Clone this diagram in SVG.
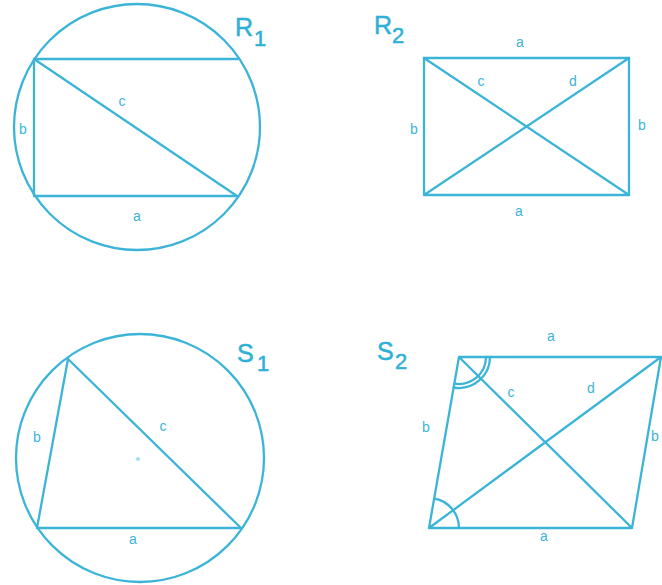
<svg xmlns="http://www.w3.org/2000/svg" width="662" height="585" viewBox="0 0 662 585">
<style>
.s{fill:none;stroke:#3cb4d8;stroke-width:2.3;stroke-linecap:round;stroke-linejoin:round}
.t{fill:#3cb4d8;font-family:"Liberation Sans",Arial,sans-serif;font-size:14px;text-anchor:middle}
.big{fill:#2fb0d6;stroke:#2fb0d6;stroke-width:0.5;font-family:"Liberation Sans",Arial,sans-serif;font-size:25px}
.sub{fill:#2fb0d6;stroke:#2fb0d6;stroke-width:0.5;font-family:"Liberation Sans",Arial,sans-serif;font-size:22px}
</style>
<rect width="662" height="585" fill="#ffffff"/>
<g id="R1">
<circle class="s" cx="137" cy="127" r="123"/>
<path class="s" d="M34,59 H238 M34,59 V196 H237 M34,59 L237,196"/>
<text class="t" x="122" y="106">c</text>
<text class="t" x="23" y="134">b</text>
<text class="t" x="137" y="221">a</text>
<text class="big" x="235" y="36">R</text><text class="sub" x="254" y="46">1</text>
</g>
<g id="R2">
<path class="s" d="M424,58 H629 V195 H424 Z M424,58 L629,195 M424,195 L629,58"/>
<text class="t" x="520" y="47">a</text>
<text class="t" x="481" y="86">c</text>
<text class="t" x="573" y="86">d</text>
<text class="t" x="414" y="134">b</text>
<text class="t" x="642" y="130">b</text>
<text class="t" x="519" y="216">a</text>
<text class="big" x="374" y="34">R</text><text class="sub" x="392" y="43">2</text>
</g>
<g id="S1">
<circle class="s" cx="140" cy="458" r="124"/>
<path class="s" d="M68,359 L37,528 H241 Z"/>
<circle cx="138" cy="459" r="2" fill="#a8dcec"/>
<text class="t" x="37" y="442">b</text>
<text class="t" x="163" y="431">c</text>
<text class="t" x="133" y="544">a</text>
<text class="big" x="237" y="362">S</text><text class="sub" x="257" y="371">1</text>
</g>
<g id="S2">
<path class="s" d="M459,357 H661 L632,528 H429 Z M459,357 L632,528 M429,528 L661,357"/>
<path class="s" d="M486,357 A27,27 0 0 1 454.3,383.6 M490,357 A31,31 0 0 1 453.6,387.5 M459,528 A30,30 0 0 0 434.2,498.5"/>
<text class="t" x="551" y="341">a</text>
<text class="t" x="511" y="397">c</text>
<text class="t" x="591" y="393">d</text>
<text class="t" x="426" y="432">b</text>
<text class="t" x="655" y="441">b</text>
<text class="t" x="544" y="541">a</text>
<text class="big" x="377" y="360">S</text><text class="sub" x="395" y="369">2</text>
</g>
</svg>
